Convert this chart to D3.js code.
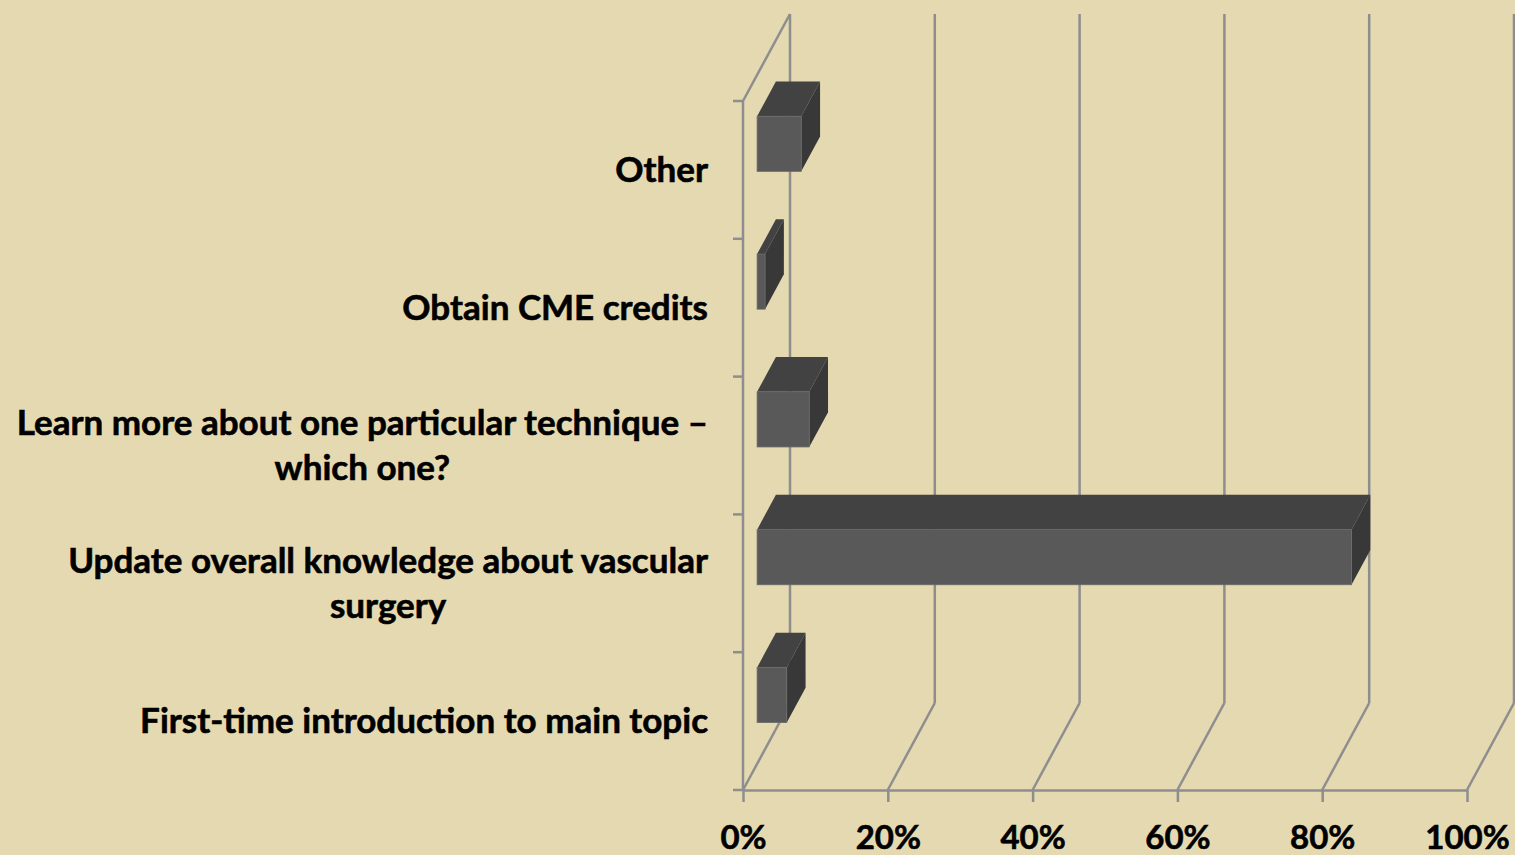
<!DOCTYPE html>
<html>
<head>
<meta charset="utf-8">
<script src="https://cdn.jsdelivr.net/npm/d3@7"></script>
<style>
    html, body { margin: 0; padding: 0; background: #E5D9B1; }
    #chart { width: 1515px; height: 855px; }
    .label { font-family: Lato, "Open Sans", sans-serif; font-weight: bold; font-size: 35px; fill: #000; stroke: #000; stroke-width: 0.6px; }
    .tick-label { font-size: 33px; }
    .grid { stroke: #8E8E8E; stroke-width: 2.5; fill: none; }
</style>
</head>
<body>
<div id="chart"></div>
<script>
// data, bottom to top as in the chart
const categories = [
    "First-time introduction to main topic",
    "Update overall knowledge about vascular\nsurgery",
    "Learn more about one particular technique –\nwhich one?",
    "Obtain CME credits",
    "Other"
];
const values = [0.041, 0.821, 0.072, 0.011, 0.061];
const xTicks = [0, 0.2, 0.4, 0.6, 0.8, 1.0];

function renderChart() {
    const width = 1515;
    const height = 855;
    const plotLeft = 743, plotRight = 1467;
    const plotTop = 101, plotBottom = 790;
    const depthX = 47, depthY = -87;     // offset from front plane to back wall
    const barFront = 0.3, barBack = 0.7; // bar position in depth
    const labelRight = 708;

    const svg = d3.select("#chart").append("svg")
        .attr("width", width)
        .attr("height", height);

    const xScale = d3.scaleLinear()
        .domain([0, 1])
        .range([plotLeft, plotRight]);

    const yScale = d3.scaleBand()
        .domain(categories.slice().reverse())
        .range([plotTop, plotBottom]);

    // back wall gridlines
    svg.selectAll(".vgrid")
        .data(xTicks)
        .join("line")
        .attr("class", "grid")
        .attr("x1", d => xScale(d) + depthX)
        .attr("x2", d => xScale(d) + depthX)
        .attr("y1", plotTop + depthY)
        .attr("y2", plotBottom + depthY);

    // floor diagonals
    svg.selectAll(".fgrid")
        .data(xTicks)
        .join("line")
        .attr("class", "grid")
        .attr("x1", d => xScale(d))
        .attr("x2", d => xScale(d) + depthX)
        .attr("y1", plotBottom)
        .attr("y2", plotBottom + depthY);

    // side wall: front edge and top diagonal
    svg.append("path")
        .attr("class", "grid")
        .attr("d", `M${plotLeft + depthX},${plotTop + depthY}L${plotLeft},${plotTop}L${plotLeft},${plotBottom}`);

    // left ticks on category boundaries
    const boundaries = yScale.domain().map(c => yScale(c)).concat([plotBottom]);
    svg.selectAll(".ytick")
        .data(boundaries)
        .join("line")
        .attr("class", "grid")
        .attr("x1", plotLeft - 10)
        .attr("x2", plotLeft)
        .attr("y1", d => d)
        .attr("y2", d => d);

    // x axis on the front floor edge
    const xAxis = svg.append("g")
        .attr("transform", `translate(0, ${plotBottom})`)
        .call(d3.axisBottom(xScale)
            .tickValues(xTicks)
            .tickFormat(d3.format(".0%"))
            .tickSize(12)
            .tickSizeOuter(0));
    xAxis.select(".domain").attr("stroke", "#8E8E8E").attr("stroke-width", 2.5);
    xAxis.selectAll(".tick line").attr("stroke", "#8E8E8E").attr("stroke-width", 2.5);
    xAxis.selectAll(".tick text")
        .attr("class", "label tick-label")
        .attr("y", 59)
        .attr("dy", 0)
        .attr("fill", "#000");

    // bars
    const dx = depthX * (barBack - barFront);
    const dy = depthY * (barBack - barFront);
    const bars = svg.selectAll(".bar")
        .data(categories.map((c, i) => ({ cat: c, value: values[i] })))
        .join("g")
        .attr("transform", `translate(${depthX * barFront}, ${depthY * barFront})`);

    const barY = d => yScale(d.cat) + yScale.bandwidth() * 0.3;
    const barH = yScale.bandwidth() * 0.4;

    bars.append("path")
        .attr("fill", "#424242")
        .attr("d", d => {
            const xa = xScale(0), xb = xScale(d.value), y = barY(d);
            return `M${xa},${y}L${xb},${y}L${xb + dx},${y + dy}L${xa + dx},${y + dy}Z`;
        });
    bars.append("path")
        .attr("fill", "#383838")
        .attr("d", d => {
            const xb = xScale(d.value), y = barY(d);
            return `M${xb},${y}L${xb + dx},${y + dy}L${xb + dx},${y + barH + dy}L${xb},${y + barH}Z`;
        });
    bars.append("rect")
        .attr("fill", "#595959")
        .attr("stroke", "#6a6a6a")
        .attr("stroke-width", 0.8)
        .attr("x", xScale(0))
        .attr("y", barY)
        .attr("width", d => xScale(d.value) - xScale(0))
        .attr("height", barH);

    // category labels, right-aligned block, lines centred
    const lineGap = 45;
    const labels = svg.selectAll(".cat")
        .data(categories)
        .join("text")
        .attr("class", "label")
        .attr("text-anchor", "middle");
    labels.each(function (c) {
        const lines = c.split("\n");
        const center = yScale(c) + yScale.bandwidth() / 2;
        const t = d3.select(this);
        lines.forEach((line, i) => {
            t.append("tspan")
                .attr("y", center + 12 + (i - (lines.length - 1) / 2) * lineGap)
                .text(line);
        });
        let w = 0;
        t.selectAll("tspan").each(function () { w = Math.max(w, this.getComputedTextLength()); });
        t.selectAll("tspan").attr("x", labelRight - w / 2);
    });
}

renderChart();
</script>
</body>
</html>
